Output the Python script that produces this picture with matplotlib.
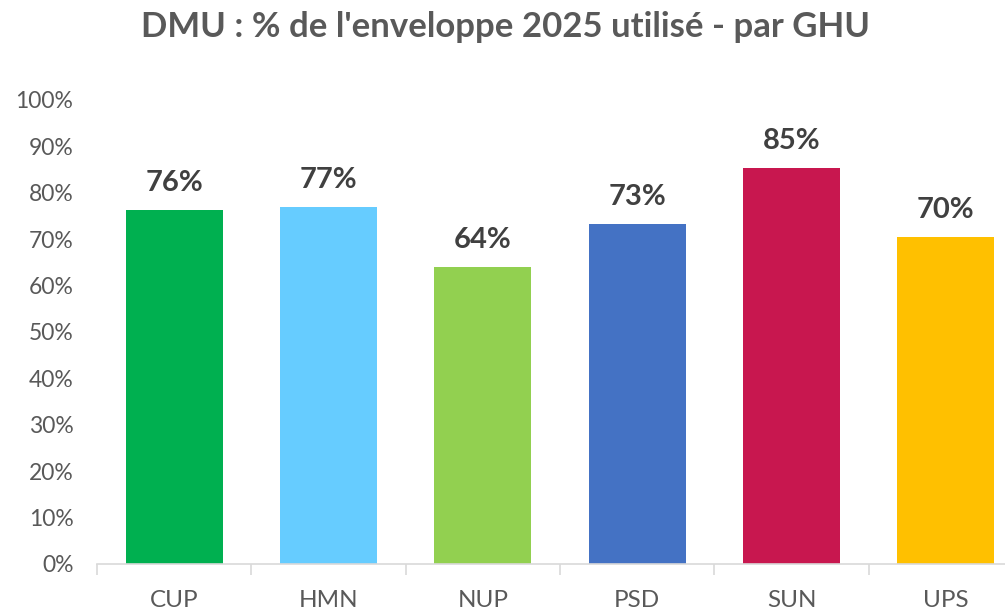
import matplotlib
matplotlib.use("Agg")
import matplotlib.pyplot as plt
from matplotlib.ticker import FuncFormatter

categories = ["CUP", "HMN", "NUP", "PSD", "SUN", "UPS"]
values = [76.4, 77.0, 64.1, 73.3, 85.4, 70.4]
labels = ["76%", "77%", "64%", "73%", "85%", "70%"]
colors = ["#00B050", "#66CCFF", "#92D050", "#4472C4", "#C8174F", "#FFC000"]

plt.rcParams['font.family'] = ['Lato', 'DejaVu Sans']

W, H = 1005, 613
fig = plt.figure(figsize=(W / 100, H / 100), dpi=100)
left, right = 97 / W, 1023 / W
bottom, top = (H - 564) / H, (H - 100) / H
ax = fig.add_axes([left, bottom, right - left, top - bottom])

x = list(range(len(categories)))
ax.bar(x, values, width=0.63, color=colors, zorder=2)
for xi, v, lab in zip(x, values, labels):
    ax.text(xi, v + 3.0, lab, ha="center", va="bottom", fontsize=21,
            fontweight="bold", color="#404040")

ax.set_xlim(-0.5, len(categories) - 0.5)
ax.set_ylim(0, 100)
ax.set_yticks(range(0, 101, 10))
ax.yaxis.set_major_formatter(FuncFormatter(lambda v, p: f"{int(v)}%"))
ax.set_xticks(x)
ax.set_xticklabels(categories)
ax.set_xticks([i + 0.5 for i in range(-1, len(categories))], minor=True)
ax.tick_params(axis="x", which="major", length=0, pad=19, labelsize=17.5, labelcolor="#595959")
ax.tick_params(axis="x", which="minor", length=8, width=1.2, color="#D9D9D9")
ax.tick_params(axis="y", length=0, pad=17, labelsize=16.5, labelcolor="#595959")
for s in ["top", "right", "left"]:
    ax.spines[s].set_visible(False)
ax.spines["bottom"].set_color("#D9D9D9")
ax.spines["bottom"].set_linewidth(1.2)

fig.text(505 / W, 1 - 27 / H, "DMU : % de l'enveloppe 2025 utilisé - par GHU",
         ha="center", va="center", fontsize=25, fontweight="bold", color="#595959")

fig.savefig("out.png", dpi=100)
